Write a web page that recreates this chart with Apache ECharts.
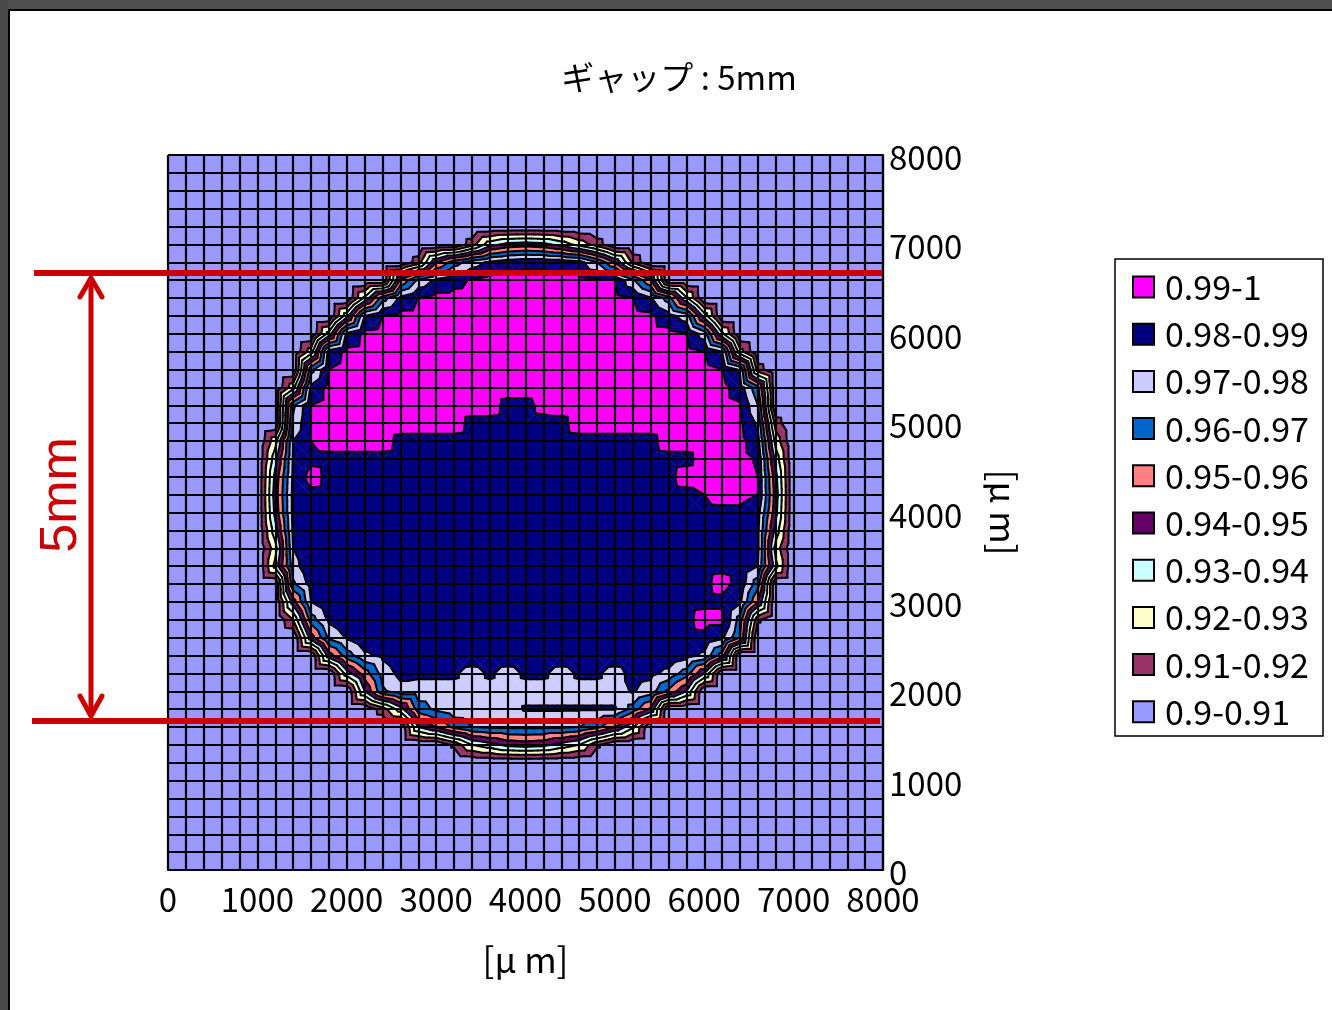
<!DOCTYPE html>
<html><head><meta charset="utf-8">
<style>html,body{margin:0;padding:0;background:#fff}#c{width:1332px;height:1010px}</style>
<script src="https://cdn.jsdelivr.net/npm/echarts@6/dist/echarts.min.js"></script>
</head><body><div id="c"></div>
<script>
const bandLabels=['0.99-1','0.98-0.99','0.97-0.98','0.96-0.97','0.95-0.96','0.94-0.95','0.93-0.94','0.92-0.93','0.91-0.92','0.9-0.91'];
const bandColors=['#FF00FF','#000080','#CCCCFF','#0066CC','#FF8080','#660066','#CCFFFF','#FFFFCC','#993366','#9999FF'];
const bandFloors=[90,80,70,60,50,40,30,20,10,0];
const axisTicks=[0,1000,2000,3000,4000,5000,6000,7000,8000];
const gridStep=200;
// surface value minus 0.9, in thousandths; rows from y=8000 down to y=0, columns x=0..8000 in 200 steps
const surfaceRows=[
[0,0,0,0,0,0,0,0,0,0,0,0,0,0,0,0,0,0,0,0,0,0,0,0,0,0,0,0,0,0,0,0,0,0,0,0,0,0,0,0,0],
[0,0,0,0,0,0,0,0,0,0,0,0,0,0,0,0,0,0,0,0,0,0,0,0,0,0,0,0,0,0,0,0,0,0,0,0,0,0,0,0,0],
[0,0,0,0,0,0,0,0,0,0,0,0,0,0,0,0,0,0,0,0,0,0,0,0,0,0,0,0,0,0,0,0,0,0,0,0,0,0,0,0,0],
[0,0,0,0,0,0,0,0,0,0,0,0,0,0,0,0,0,0,0,0,0,0,0,0,0,0,0,0,0,0,0,0,0,0,0,0,0,0,0,0,0],
[0,0,0,0,0,0,0,0,0,0,0,0,0,0,0,0,0,0,0,0,0,0,0,0,0,0,0,0,0,0,0,0,0,0,0,0,0,0,0,0,0],
[0,0,0,0,0,0,0,0,0,0,0,0,0,0,0,0,0, 15,36,43,45,43,36,26,15, 0,0,0,0,0,0,0,0,0,0,0,0,0,0,0,0],
[0,0,0,0,0,0,0,0,0,0,0,0,0,0, 15,49,65,75,82,86,88,88,87,84,70,49,18, 0,0,0,0,0,0,0,0,0,0,0,0,0,0],
[0,0,0,0,0,0,0,0,0,0,0,0,0, 51,72,82,87,91,93,93,93,93,93,93,92,90,72,51, 0,0,0,0,0,0,0,0,0,0,0,0,0],
[0,0,0,0,0,0,0,0,0,0,0, 32,65,82,90, 93,93,93,93,93,93,93,93,93,93,93, 90,81,65,32, 0,0,0,0,0,0,0,0,0,0,0],
[0,0,0,0,0,0,0,0,0,0, 36,80,90, 93,93,93,93,93,93,93,93,93,93,93,93,93,93, 92,84,75,36, 0,0,0,0,0,0,0,0,0,0],
[0,0,0,0,0,0,0,0,0, 34,82,92, 93,93,93,93,93,93,93,93,93,93,93,93,93,93,93,93,93, 90,75,32, 0,0,0,0,0,0,0,0,0],
[0,0,0,0,0,0,0,0, 25,84,92, 93,93,93,93,93,93,93,93,93,93,93,93,93,93,93,93,93,93,93, 90,80,24, 0,0,0,0,0,0,0,0],
[0,0,0,0,0,0,0,0, 66,90, 93,93,93,93,93,93,93,93,93,93,93,93,93,93,93,93,93,93,93,93,93, 90,78,15, 0,0,0,0,0,0,0],
[0,0,0,0,0,0,0, 26,82, 93,93,93,93,93,93,93,93,93,93,93,93,93,93,93,93,93,93,93,93,93,93,93, 85,62, 0,0,0,0,0,0,0],
[0,0,0,0,0,0,0, 68,90, 93,93,93,93,93,93,93,93,93,93, 88,88,92, 93,93,93,93,93,93,93,93,93,93, 91,70, 0,0,0,0,0,0,0],
[0,0,0,0,0,0,0, 72,90, 93,93,93,93,93,93,93,93, 88,88,88,88,88,88, 93,93,93,93,93,93,93,93,93, 92,78,15, 0,0,0,0,0,0],
[0,0,0,0,0,0, 26,80,90, 93,93,93,93, 88,88,88,88,88,88,88,88,88,88,88,88,88,88,88, 93,93,93,93,93, 84,26, 0,0,0,0,0,0],
[0,0,0,0,0,0, 36,81, 88,88,88,88,88,88,88,88,88,88,88,88,88,88,88,88,88,88,88,88,88,88, 93,93,93, 89,36, 0,0,0,0,0,0],
[0,0,0,0,0,0, 43,82,93, 88,88,88,88,88,88,88,88,88,88,88,88,88,88,88,88,88,88,88,88, 93,93,93,93, 90,43, 0,0,0,0,0,0],
[0,0,0,0,0,0, 45,83, 88,88,88,88,88,88,88,88,88,88,88,88,88,88,88,88,88,88,88,88,88,88, 90, 93,93, 90,45, 0,0,0,0,0,0],
[0,0,0,0,0,0, 43,83, 88,88,88,88,88,88,88,88,88,88,88,88,88,88,88,88,88,88,88,88,88,88,88,88,88, 84,43, 0,0,0,0,0,0],
[0,0,0,0,0,0, 36,82, 88,88,88,88,88,88,88,88,88,88,88,88,88,88,88,88,88,88,88,88,88,88,88,88,88, 82,36, 0,0,0,0,0,0],
[0,0,0,0,0,0, 26,80, 88,88,88,88,88,88,88,88,88,88,88,88,88,88,88,88,88,88,88,88,88,88,88,88,88, 82,26, 0,0,0,0,0,0],
[0,0,0,0,0,0, 33,76, 88,88,88,88,88,88,88,88,88,88,88,88,88,88,88,88,88,88,88,88,88,88,88,88,88, 80,33, 0,0,0,0,0,0],
[0,0,0,0,0,0,0, 68,84, 88,88,88,88,88,88,88,88,88,88,88,88,88,88,88,88,88,88,88,88,88,88, 93,87,64, 0,0,0,0,0,0,0],
[0,0,0,0,0,0,0, 45,80, 88,88,88,88,88,88,88,88,88,88,88,88,88,88,88,88,88,88,88,88,88,88,88, 82,50, 0,0,0,0,0,0,0],
[0,0,0,0,0,0,0, 20,65,82, 88,88,88,88,88,88,88,88,88,88,88,88,88,88,88,88,88,88,88,88, 93,93,65,12, 0,0,0,0,0,0,0],
[0,0,0,0,0,0,0,0, 45,72,81, 88,88,88,88,88,88,88,88,88,88,88,88,88,88,88,88,88,88,88,88, 82,60, 0,0,0,0,0,0,0,0],
[0,0,0,0,0,0,0,0,0, 45,65,78,82, 88,88,88,88,88,88,88,88,88,88,88,88,88,88,88,88, 84,78,55, 0,0,0,0,0,0,0,0,0],
[0,0,0,0,0,0,0,0,0,0, 35,55,74,83,82,82,82,75,82,75,82,82,75,82,82,75,84,83,77,65,40, 0,0,0,0,0,0,0,0,0,0],
[0,0,0,0,0,0,0,0,0,0,0, 40,68, 76,76,76,76,76,76,76,76,76,76,76,76,76, 81,75,58,40, 0,0,0,0,0,0,0,0,0,0,0],
[0,0,0,0,0,0,0,0,0,0,0,0, 15,35,65,72, 76,76,76,76, 81,81,81,81,81,81, 66,48, 0,0,0,0,0,0,0,0,0,0,0,0,0],
[0,0,0,0,0,0,0,0,0,0,0,0,0,0, 40,50,63,70,72,72,72,72,72,70,63,50,32, 0,0,0,0,0,0,0,0,0,0,0,0,0,0],
[0,0,0,0,0,0,0,0,0,0,0,0,0,0,0,0, 12,30,36,43,45,43,36,30,12, 0,0,0,0,0,0,0,0,0,0,0,0,0,0,0,0],
[0,0,0,0,0,0,0,0,0,0,0,0,0,0,0,0,0,0,0,0,0,0,0,0,0,0,0,0,0,0,0,0,0,0,0,0,0,0,0,0,0],
[0,0,0,0,0,0,0,0,0,0,0,0,0,0,0,0,0,0,0,0,0,0,0,0,0,0,0,0,0,0,0,0,0,0,0,0,0,0,0,0,0],
[0,0,0,0,0,0,0,0,0,0,0,0,0,0,0,0,0,0,0,0,0,0,0,0,0,0,0,0,0,0,0,0,0,0,0,0,0,0,0,0,0],
[0,0,0,0,0,0,0,0,0,0,0,0,0,0,0,0,0,0,0,0,0,0,0,0,0,0,0,0,0,0,0,0,0,0,0,0,0,0,0,0,0],
[0,0,0,0,0,0,0,0,0,0,0,0,0,0,0,0,0,0,0,0,0,0,0,0,0,0,0,0,0,0,0,0,0,0,0,0,0,0,0,0,0],
[0,0,0,0,0,0,0,0,0,0,0,0,0,0,0,0,0,0,0,0,0,0,0,0,0,0,0,0,0,0,0,0,0,0,0,0,0,0,0,0,0],
[0,0,0,0,0,0,0,0,0,0,0,0,0,0,0,0,0,0,0,0,0,0,0,0,0,0,0,0,0,0,0,0,0,0,0,0,0,0,0,0,0]
];

const FONT='"Noto Sans CJK JP","Noto Sans",sans-serif';
const N=surfaceRows.length-1;
const vAt=(i,j)=>surfaceRows[N-j][i];

function corners(i,j){
  const a=[i,j,vAt(i,j)],b=[i+1,j,vAt(i+1,j)],c=[i+1,j+1,vAt(i+1,j+1)],d=[i,j+1,vAt(i,j+1)];
  return [a,b,c,d];
}
function triangles(q){
  const vs=q.map(p=>p[2]);
  const mean=(vs[0]+vs[1]+vs[2]+vs[3])/4, mid=(Math.min(...vs)+Math.max(...vs))/2;
  const m=[q[0][0]+.5,q[0][1]+.5,.25*mean+.75*mid];
  return [[q[0],q[1],m],[q[1],q[2],m],[q[2],q[3],m],[q[3],q[0],m]];
}
function cross(p,q,l){const t=(l-p[2])/(q[2]-p[2]);return [p[0]+(q[0]-p[0])*t,p[1]+(q[1]-p[1])*t,l];}
function clip(poly,l,keepAbove){
  const out=[];
  for(let k=0;k<poly.length;k++){
    const p=poly[k],q=poly[(k+1)%poly.length];
    const pin=keepAbove?p[2]>=l:p[2]<l,qin=keepAbove?q[2]>=l:q[2]<l;
    if(pin)out.push(p);
    if(pin!==qin)out.push(cross(p,q,l));
  }
  return out;
}
const bandRange=b=>[b===bandFloors.length-1?-Infinity:bandFloors[b],b===0?Infinity:bandFloors[b-1]];
function cellsFor(b){
  const [lo,hi]=bandRange(b),cells=[];
  for(let j=0;j<N;j++)for(let i=0;i<N;i++){
    const v=corners(i,j).map(p=>p[2]),mn=Math.min(...v),mx=Math.max(...v);
    if(mx>=lo&&mn<hi)cells.push([i*gridStep,j*gridStep]);
  }
  return cells;
}
function bandSeries(b){
  const [lo,hi]=bandRange(b),color=bandColors[b];
  return {
    type:'custom',name:bandLabels[b],z:2,silent:true,clip:true,animation:false,
    itemStyle:{color},data:cellsFor(b),encode:{x:0,y:1},
    renderItem(params,api){
      const q=corners(api.value(0)/gridStep,api.value(1)/gridStep);
      const vs=q.map(p=>p[2]);
      const polys=[];
      if(Math.min(...vs)>=lo&&Math.max(...vs)<hi)polys.push(q);
      else triangles(q).forEach(t=>{
        let p=t;
        if(lo!==-Infinity)p=clip(p,lo,true);
        if(p.length&&hi!==Infinity)p=clip(p,hi,false);
        if(p.length>2)polys.push(p);
      });
      return {type:'group',children:polys.map(p=>({
        type:'polygon',
        shape:{points:p.map(o=>api.coord([o[0]*gridStep,o[1]*gridStep]))},
        style:{fill:color,stroke:color,lineWidth:.5}
      }))};
    }
  };
}
const contourLevels=bandFloors.slice(0,-1);
const contourSeries={
  type:'custom',name:'contours',z:3,silent:true,animation:false,clip:true,
  data:(()=>{const c=[];for(let j=0;j<N;j++)for(let i=0;i<N;i++){
    const v=corners(i,j).map(p=>p[2]);if(Math.max(...v)>10-1&&Math.min(...v)!==Math.max(...v))c.push([i*gridStep,j*gridStep]);}return c;})(),
  encode:{x:0,y:1},
  renderItem(params,api){
    const q=corners(api.value(0)/gridStep,api.value(1)/gridStep),kids=[];
    triangles(q).forEach(t=>contourLevels.forEach(l=>{
      const pts=[];
      for(let k=0;k<3;k++){const p=t[k],r=t[(k+1)%3];if((p[2]>=l)!==(r[2]>=l))pts.push(cross(p,r,l));}
      if(pts.length===2){
        const a=api.coord([pts[0][0]*gridStep,pts[0][1]*gridStep]),b=api.coord([pts[1][0]*gridStep,pts[1][1]*gridStep]);
        kids.push({type:'line',shape:{x1:a[0],y1:a[1],x2:b[0],y2:b[1]},style:{stroke:'#000',lineWidth:2,lineCap:'round'}});
      }
    }));
    return {type:'group',children:kids};
  }
};
const tickLabel=v=>axisTicks.includes(v)?String(v):'';
const axisText={color:'#000',fontFamily:FONT,fontSize:33};
const RED='#cc0000';
const chart=echarts.init(document.getElementById('c'),null,{renderer:'canvas'});
chart.setOption({
  animation:false,backgroundColor:'#fff',
  title:{text:'ギャップ : 5mm',left:674,top:49,textAlign:'center',textStyle:{color:'#000',fontFamily:FONT,fontSize:33,fontWeight:'normal',lineHeight:46}},
  grid:{left:168,top:155,width:715,height:715,containLabel:false},
  xAxis:{type:'value',min:0,max:8000,interval:gridStep,z:5,
    name:'[μ m]',nameLocation:'middle',nameGap:72,nameTextStyle:Object.assign({},axisText,{fontSize:35}),
    axisLine:{show:true,onZero:false,lineStyle:{color:'#000',width:2.2}},axisTick:{show:false},
    splitLine:{show:true,lineStyle:{color:'#000',width:2.2}},
    axisLabel:Object.assign({},axisText,{margin:13,formatter:tickLabel,showMinLabel:true,showMaxLabel:true,hideOverlap:false})},
  yAxis:{type:'value',min:0,max:8000,interval:gridStep,position:'right',z:5,
    name:'[μ m]',nameLocation:'middle',nameRotate:-90,nameGap:103,nameTextStyle:Object.assign({},axisText,{fontSize:35}),
    axisLine:{show:true,onZero:false,lineStyle:{color:'#000',width:2.2}},axisTick:{show:false},
    splitLine:{show:true,lineStyle:{color:'#000',width:2.2}},
    axisLabel:Object.assign({},axisText,{margin:6,formatter:tickLabel,verticalAlign:'top',lineHeight:5,showMinLabel:true,showMaxLabel:true,hideOverlap:false})},
  legend:{
    orient:'vertical',left:1132,top:270,padding:0,icon:'rect',itemWidth:21,itemHeight:21,itemGap:13.2,
    selectedMode:false,
    textStyle:{color:'#000',fontFamily:FONT,fontSize:34,lineHeight:32,padding:[0,0,0,6]},
    data:bandLabels.map(name=>({name,itemStyle:{borderColor:'#000',borderWidth:2}}))
  },
  series:bandLabels.map((_,b)=>bandSeries(b)).concat([contourSeries]),
  graphic:[
    {type:'rect',z:50,shape:{x:0,y:0,width:1332,height:9},style:{fill:'#505050'}},
    {type:'rect',z:50,shape:{x:0,y:0,width:8,height:1010},style:{fill:'#484848'}},
    {type:'rect',z:51,shape:{x:8,y:9,width:1324,height:2},style:{fill:'#000'}},
    {type:'rect',z:51,shape:{x:8,y:9,width:2,height:1001},style:{fill:'#000'}},
    {type:'rect',z:40,shape:{x:1115,y:259,width:208,height:477},style:{fill:'none',stroke:'#000',lineWidth:1.5}},
    {type:'line',z:60,shape:{x1:34,y1:273,x2:882,y2:273},style:{stroke:RED,lineWidth:6}},
    {type:'line',z:60,shape:{x1:32,y1:721,x2:880,y2:721},style:{stroke:RED,lineWidth:6}},
    {type:'line',z:60,shape:{x1:91,y1:278,x2:91,y2:716},style:{stroke:RED,lineWidth:5}},
    {type:'polyline',z:60,shape:{points:[[80,297],[91,278],[102,297]]},style:{stroke:RED,fill:'none',lineWidth:5,lineCap:'round'}},
    {type:'polyline',z:60,shape:{points:[[80,696],[91,716],[102,696]]},style:{stroke:RED,fill:'none',lineWidth:5,lineCap:'round'}},
    {type:'text',z:60,x:62,y:495,rotation:Math.PI/2,style:{text:'5mm',fill:RED,font:'52px "Liberation Sans",sans-serif',align:'center',verticalAlign:'middle'}}
  ]
});
</script></body></html>
